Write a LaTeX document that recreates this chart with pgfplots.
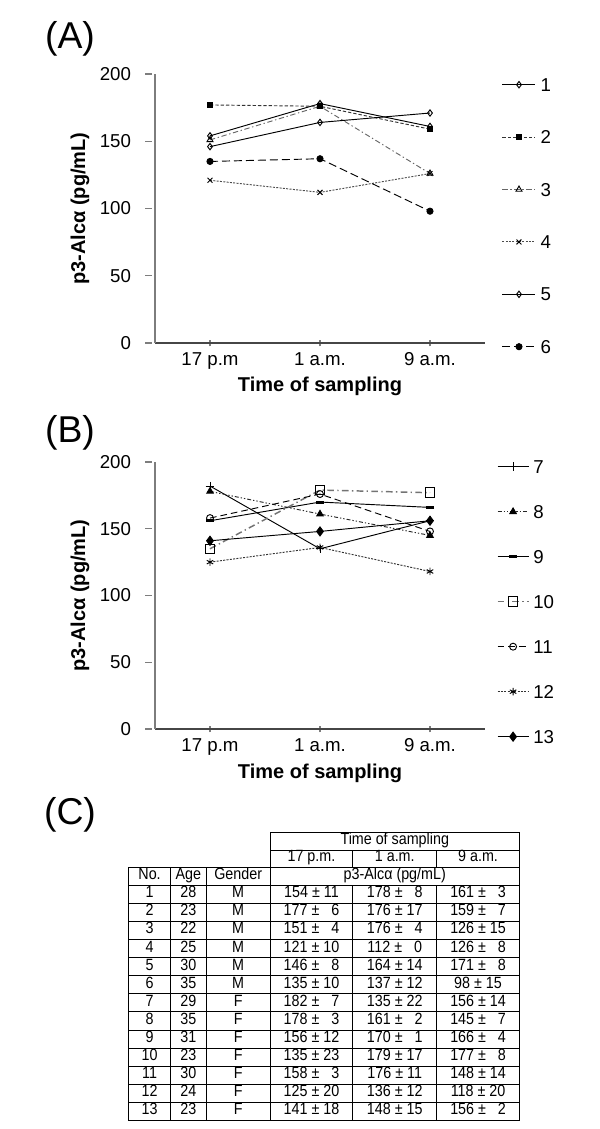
\documentclass[border=0pt]{standalone}
\usepackage{pgfplots}
\pgfplotsset{compat=1.18}
\usepackage{fontspec}
\setmainfont{Liberation Sans}
\newfontfamily\tablefont{Liberation Sans}[FakeStretch=0.88]
\usepackage{array}
\usetikzlibrary{plotmarks}
\newcolumntype{C}[1]{>{\centering\arraybackslash}p{#1}}
\definecolor{axisgray}{RGB}{125,125,125}
\definecolor{xaxisgray}{RGB}{70,70,70}

\pgfplotsset{
  myaxis/.style={
    scale only axis,
    width=247.5pt,
    xmin=-0.5, xmax=2.5,
    ymin=0, ymax=200,
    clip=false,
    xtick={0,1,2},
    xticklabels={17 p.m,1 a.m.,9 a.m.},
    ytick={0,50,100,150,200},
    axis x line=bottom, axis y line=left,
    x axis line style={-, line width=1.1pt, color=xaxisgray},
    y axis line style={-, line width=1.3pt, color=axisgray},
    tick style={line width=0.9pt, color=axisgray},
    major tick length=5pt,
    ytick style={xshift=-5pt},
    /pgf/number format/assume math mode=true,
    tick label style={font=\fontsize{14}{16}\selectfont},
    yticklabel style={xshift=-12pt},
    xticklabel style={yshift=-1pt},
    ylabel={p3-Alcα (pg/mL)},
    xlabel={Time of sampling},
    every axis y label/.style={at={(axis description cs:-0.227,0.5)}, rotate=90, anchor=center,
      font=\fontsize{15}{17}\selectfont\bfseries},
    legend cell align=left,
  },
  every axis plot/.append style={line width=0.7pt},
}

\begin{document}
\begin{tikzpicture}
\path[use as bounding box] (0,0) rectangle (450pt,-846.75pt);

% Panel labels
\node[font=\fontsize{28}{30}\selectfont] at (52.5pt,-29.25pt) {(A)};
\node[font=\fontsize{28}{30}\selectfont] at (52.5pt,-324.75pt) {(B)};
\node[font=\fontsize{28}{30}\selectfont] at (52.5pt,-611.25pt) {(C)};

% Panel A
\begin{axis}[myaxis,
  height=201.75pt,
  at={(116.25pt,-257.25pt)}, anchor=south west,
  every axis x label/.style={at={(axis description cs:0.5,-0.163)}, anchor=center,
    font=\fontsize{15}{17}\selectfont\bfseries},
  legend image code/.code={\draw[mark repeat=2,mark phase=2,#1] plot coordinates {(0pt,0pt) (12.4pt,0pt) (24.75pt,0pt)};},
  legend style={at={(axis description cs:1.0515,0.985)}, anchor=north west, draw=none, fill=none,
    inner sep=0pt, outer sep=0pt, row sep=29.3pt, column sep=3.5pt,
    nodes={inner sep=0pt, text height=10pt, text depth=0pt, font=\fontsize{14}{16}\selectfont}},
]
\addplot[black, mark=diamond, mark size=2.4pt, mark options={solid, fill=white}] coordinates {(0,154) (1,178) (2,161)};
\addlegendentry{1}
\addplot[black!80, dash pattern=on 2.5pt off 1.5pt, mark=square*, mark size=1.9pt, mark options={solid, black}] coordinates {(0,177) (1,176) (2,159)};
\addlegendentry{2}
\addplot[black!60, dash pattern=on 4pt off 2pt on 1pt off 2pt, mark=triangle, mark size=2.6pt, mark options={solid, black, fill=white}] coordinates {(0,151) (1,176) (2,126)};
\addlegendentry{3}
\addplot[black!70, dash pattern=on 1.5pt off 1pt, mark=x, mark size=2.6pt, mark options={solid, black}] coordinates {(0,121) (1,112) (2,126)};
\addlegendentry{4}
\addplot[black, mark=diamond, mark size=2.4pt, mark options={solid, fill=white}] coordinates {(0,146) (1,164) (2,171)};
\addlegendentry{5}
\addplot[black, dash pattern=on 6pt off 3pt, mark=*, mark size=2.3pt, mark options={solid}] coordinates {(0,135) (1,137) (2,98)};
\addlegendentry{6}
\end{axis}

% Panel B
\begin{axis}[myaxis,
  height=200.25pt,
  at={(116.25pt,-546.75pt)}, anchor=south west,
  every axis x label/.style={at={(axis description cs:0.5,-0.165)}, anchor=center,
    font=\fontsize{15}{17}\selectfont\bfseries},
  legend image code/.code={\draw[mark repeat=2,mark phase=2,#1] plot coordinates {(0pt,0pt) (11.6pt,0pt) (23.25pt,0pt)};},
  legend style={at={(axis description cs:1.036,1.0075)}, anchor=north west, draw=none, fill=none,
    inner sep=0pt, outer sep=0pt, row sep=23.75pt, column sep=3pt,
    nodes={inner sep=0pt, text height=10pt, text depth=0pt, font=\fontsize{14}{16}\selectfont}},
]
\addplot[black, mark=+, mark size=3.2pt, mark options={solid}] coordinates {(0,182) (1,135) (2,156)};
\addlegendentry{7}
\addplot[black!85, dash pattern=on 3pt off 1.5pt on 1pt off 1.5pt on 1pt off 1.5pt, mark=triangle*, mark size=2.8pt, mark options={solid, black}] coordinates {(0,178) (1,161) (2,145)};
\addlegendentry{8}
\addplot[black, mark=-, mark size=3pt, mark options={solid, line width=2.2pt}] coordinates {(0,156) (1,170) (2,166)};
\addlegendentry{9}
\addplot[black!55, line width=1.1pt, dash pattern=on 5pt off 2.5pt on 1pt off 2.5pt, mark=square, mark size=3.6pt, mark options={solid, black, line width=0.7pt, fill=white}] coordinates {(0,135) (1,179) (2,177)};
\addlegendentry{10}
\addplot[black, dash pattern=on 5pt off 3pt, mark=o, mark size=2.6pt, mark options={solid, fill=white}] coordinates {(0,158) (1,176) (2,148)};
\addlegendentry{11}
\addplot[black!80, dash pattern=on 1.5pt off 1pt, mark=asterisk, mark size=2.8pt, mark options={solid, black}] coordinates {(0,125) (1,136) (2,118)};
\addlegendentry{12}
\addplot[black, mark=diamond*, mark size=3.4pt, mark options={solid}] coordinates {(0,141) (1,148) (2,156)};
\addlegendentry{13}
\end{axis}

% Panel C table
\node[anchor=north west, inner sep=0pt] at (96pt,-624pt) {%
\tablefont\fontsize{12.2}{12.96}\selectfont
\setlength\tabcolsep{0pt}\setlength\arrayrulewidth{0.6pt}%
\begin{tabular}{|C{30.75pt}|C{26.25pt}|C{47.25pt}|C{61.5pt}|C{62.25pt}|C{61.5pt}|}
\cline{4-6}
\multicolumn{3}{c|}{} & \multicolumn{3}{c|}{Time of sampling}\\ \cline{4-6}
\multicolumn{3}{c|}{} & 17 p.m. & 1 a.m. & 9 a.m.\\ \hline
No. & Age & Gender & \multicolumn{3}{c|}{p3-Alcα (pg/mL)}\\ \hline
1 & 28 & M & 154 ± 11 & 178 ± \phantom{0}8 & 161 ± \phantom{0}3\\ \hline
2 & 23 & M & 177 ± \phantom{0}6 & 176 ± 17 & 159 ± \phantom{0}7\\ \hline
3 & 22 & M & 151 ± \phantom{0}4 & 176 ± \phantom{0}4 & 126 ± 15\\ \hline
4 & 25 & M & 121 ± 10 & 112 ± \phantom{0}0 & 126 ± \phantom{0}8\\ \hline
5 & 30 & M & 146 ± \phantom{0}8 & 164 ± 14 & 171 ± \phantom{0}8\\ \hline
6 & 35 & M & 135 ± 10 & 137 ± 12 & 98 ± 15\\ \hline
7 & 29 & F & 182 ± \phantom{0}7 & 135 ± 22 & 156 ± 14\\ \hline
8 & 35 & F & 178 ± \phantom{0}3 & 161 ± \phantom{0}2 & 145 ± \phantom{0}7\\ \hline
9 & 31 & F & 156 ± 12 & 170 ± \phantom{0}1 & 166 ± \phantom{0}4\\ \hline
10 & 23 & F & 135 ± 23 & 179 ± 17 & 177 ± \phantom{0}8\\ \hline
11 & 30 & F & 158 ± \phantom{0}3 & 176 ± 11 & 148 ± 14\\ \hline
12 & 24 & F & 125 ± 20 & 136 ± 12 & 118 ± 20\\ \hline
13 & 23 & F & 141 ± 18 & 148 ± 15 & 156 ± \phantom{0}2\\ \hline
\end{tabular}};
\end{tikzpicture}
\end{document}
